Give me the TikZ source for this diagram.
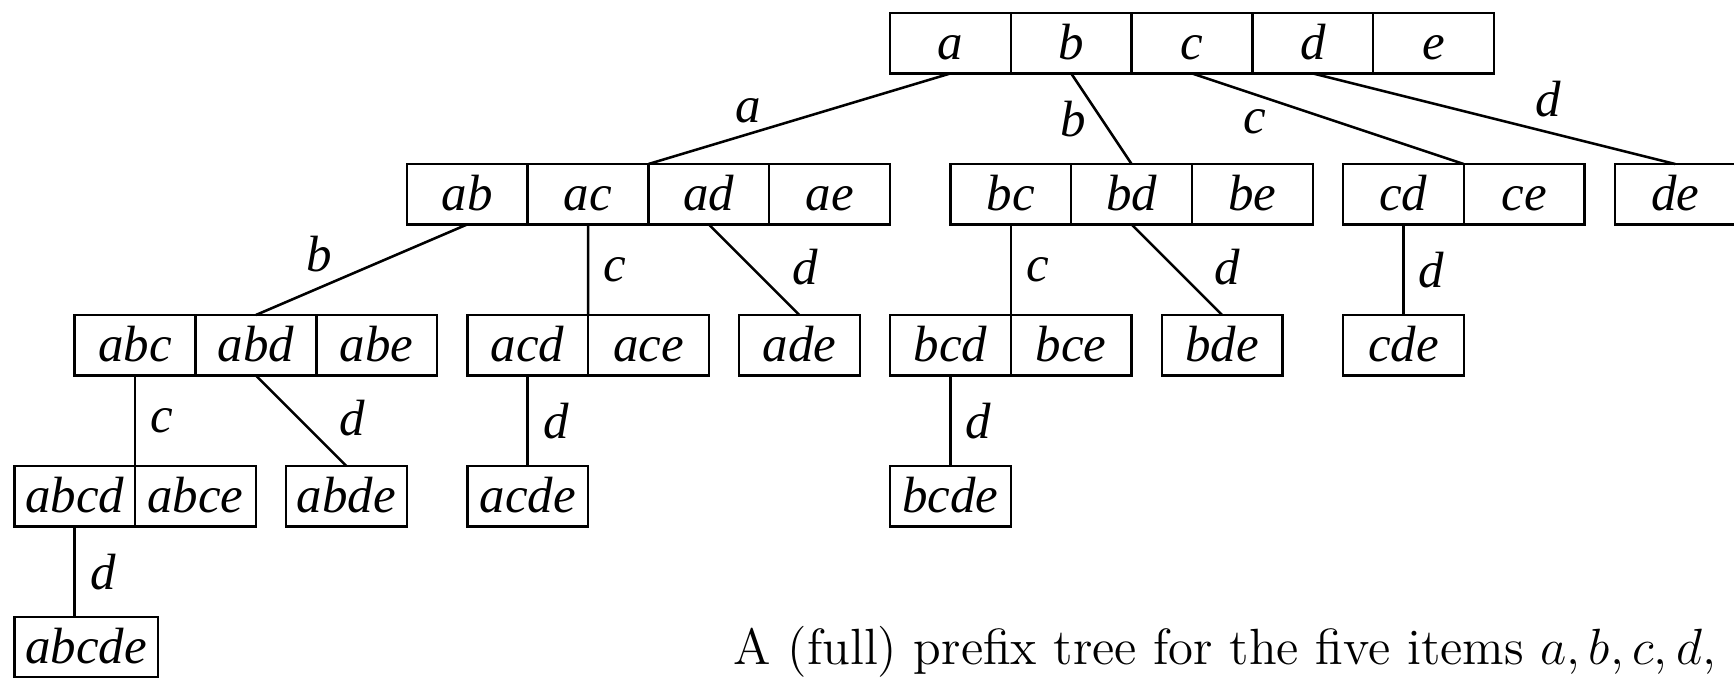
\documentclass[tikz,border=0pt]{standalone}
\usepackage{fontspec}
\usepackage{tikz}
\usetikzlibrary{positioning}
\newfontfamily\itemfont{Liberation Serif}

\tikzset{
  cell/.style={draw, semithick, outer sep=0pt, minimum width=1cm, minimum height=.5cm,
    inner xsep=2pt, inner ysep=0pt, text height=8.5pt, text depth=.8pt, anchor=north west,
    font=\itemfont\itshape\fontsize{12}{14}\selectfont},
  lbl/.style={font=\itemfont\itshape\fontsize{12}{14}\selectfont},
  branch/.style={semithick}
}

\begin{document}
\begin{tikzpicture}
\useasboundingbox (-7.368,-5.497) rectangle (6.987,.108);
\clip (-7.368,-5.497) rectangle (6.987,.108);

% root
\node[cell] (a) at (0,0) {a};
\node[cell, right=0pt of a] (b) {b};
\node[cell, right=0pt of b] (c) {c};
\node[cell, right=0pt of c] (d) {d};
\node[cell, right=0pt of d] (e) {e};

% level 1
\node[cell] (ab) at (-4,-1.25) {ab};
\node[cell, right=0pt of ab] (ac) {ac};
\node[cell, right=0pt of ac] (ad) {ad};
\node[cell, right=0pt of ad] (ae) {ae};
\node[cell] (bc) at (.5,-1.25) {bc};
\node[cell, right=0pt of bc] (bd) {bd};
\node[cell, right=0pt of bd] (be) {be};
\node[cell] (cd) at (3.75,-1.25) {cd};
\node[cell, right=0pt of cd] (ce) {ce};
\node[cell] (de) at (6,-1.25) {de};

% level 2
\node[cell] (abc) at (-6.75,-2.5) {abc};
\node[cell, right=0pt of abc] (abd) {abd};
\node[cell, right=0pt of abd] (abe) {abe};
\node[cell] (acd) at (-3.5,-2.5) {acd};
\node[cell, right=0pt of acd] (ace) {ace};
\node[cell] (ade) at (-1.25,-2.5) {ade};
\node[cell] (bcd) at (0,-2.5) {bcd};
\node[cell, right=0pt of bcd] (bce) {bce};
\node[cell] (bde) at (2.25,-2.5) {bde};
\node[cell] (cde) at (3.75,-2.5) {cde};

% level 3
\node[cell] (abcd) at (-7.25,-3.75) {abcd};
\node[cell, right=0pt of abcd] (abce) {abce};
\node[cell] (abde) at (-5,-3.75) {abde};
\node[cell] (acde) at (-3.5,-3.75) {acde};
\node[cell] (bcde) at (0,-3.75) {bcde};

% level 4
\node[cell, inner xsep=2.6pt] (abcde) at (-7.25,-5) {abcde};

% branches from the root
\draw[branch] (a.south) -- (ac.north east) node[pos=.67, above, lbl, yshift=-1pt] {a};
\draw[branch] (b.south) -- (bd.north) node[midway, left, lbl] {b};
\draw[branch] (c.south) -- (cd.north east) node[pos=.23, below, lbl] {c};
\draw[branch] (d.south) -- (de.north) node[pos=.65, above, lbl] {d};

% branches below level 1
\draw[branch] (ab.south) -- (abd.north) node[pos=.7, above, lbl] {b};
\draw[branch] (ac.south) -- (acd.north east) node[midway, right, lbl] {c};
\draw[branch] (ad.south) -- (ade.north) node[pos=.75, above right, lbl, yshift=-2pt] {d};
\draw[branch] (bc.south) -- (bcd.north east) node[midway, right, lbl] {c};
\draw[branch] (bd.south) -- (bde.north) node[pos=.75, above right, lbl, yshift=-2pt] {d};
\draw[branch] (cd.south) -- (cde.north) node[midway, right, lbl] {d};

% branches below level 2
\draw[branch] (abc.south) -- (abcd.north east) node[midway, right, lbl] {c};
\draw[branch] (abd.south) -- (abde.north) node[pos=.75, above right, lbl, yshift=-2pt] {d};
\draw[branch] (acd.south) -- (acde.north) node[midway, right, lbl] {d};
\draw[branch] (bcd.south) -- (bcde.north) node[midway, right, lbl] {d};

% last branch
\draw[branch] (abcd.south) -- (abcd.south |- abcde.north) node[midway, right, lbl] {d};

\node[anchor=base west, inner sep=0pt, font=\fontsize{12}{14}\selectfont] (caption) at (-1.30,-5.397)
  {A (full) prefix tree for the five items $a, b, c, d,$};
\end{tikzpicture}
\end{document}
